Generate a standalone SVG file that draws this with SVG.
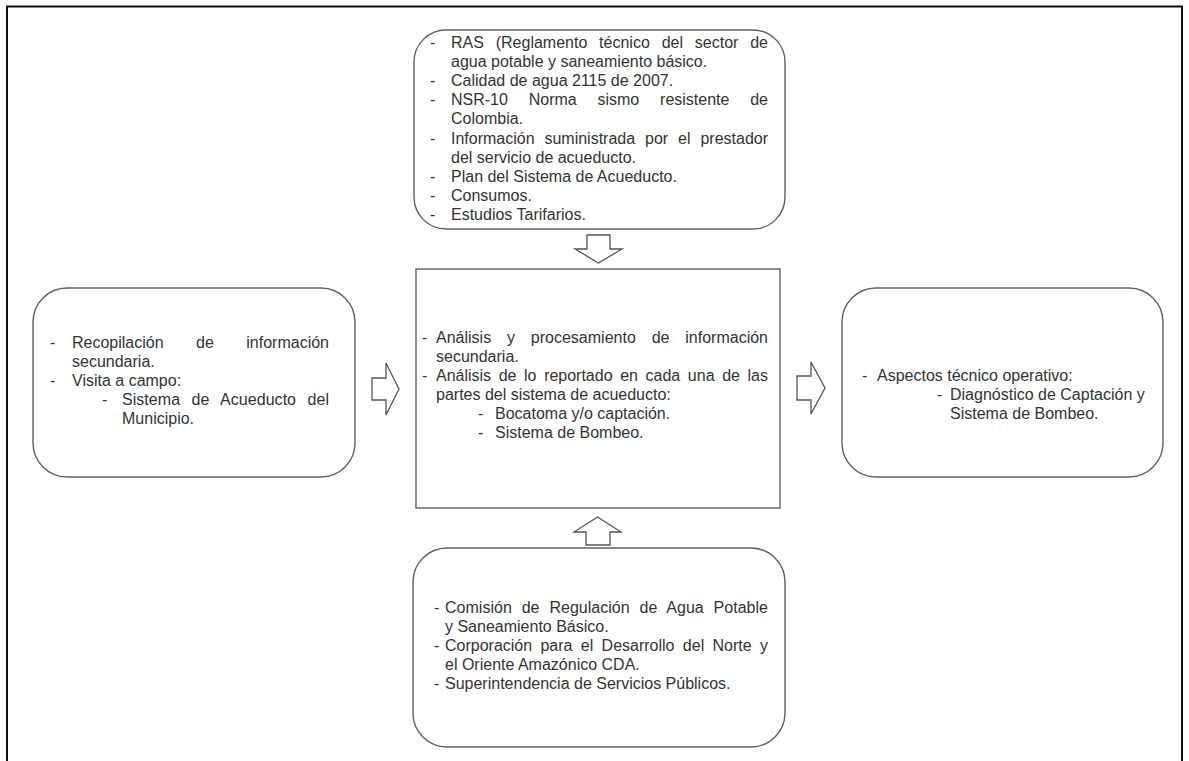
<svg xmlns="http://www.w3.org/2000/svg" width="1189" height="761" viewBox="0 0 1189 761">
<style>
.t{font-family:"Liberation Sans",Arial,sans-serif;font-size:16px;fill:#333}
.box{fill:#fff;stroke:#606060;stroke-width:1.4}
.arr{fill:#fff;stroke:#555;stroke-width:1.3;stroke-linejoin:miter}
</style>
<rect x="0" y="0" width="1189" height="761" fill="#fff"/>
<rect x="7" y="6.5" width="1175" height="780" fill="none" stroke="#111" stroke-width="2"/>

<g id="node-normativa">
<rect class="box" x="414" y="30" width="371" height="199" rx="32"/>
<text class="t" x="430" y="48">-</text>
<text class="t" x="451" y="48" textLength="317" lengthAdjust="spacing" word-spacing="7.4">RAS (Reglamento técnico del sector de</text>
<text class="t" x="451" y="67.1">agua potable y saneamiento básico.</text>
<text class="t" x="430" y="86.2">-</text>
<text class="t" x="451" y="86.2">Calidad de agua 2115 de 2007.</text>
<text class="t" x="430" y="105.3">-</text>
<text class="t" x="451" y="105.3" textLength="317" lengthAdjust="spacing" word-spacing="16.4">NSR-10 Norma sismo resistente de</text>
<text class="t" x="451" y="124.4">Colombia.</text>
<text class="t" x="430" y="143.5">-</text>
<text class="t" x="451" y="143.5" textLength="317" lengthAdjust="spacing" word-spacing="5.5">Información suministrada por el prestador</text>
<text class="t" x="451" y="162.6">del servicio de acueducto.</text>
<text class="t" x="430" y="181.7">-</text>
<text class="t" x="451" y="181.7">Plan del Sistema de Acueducto.</text>
<text class="t" x="430" y="200.8">-</text>
<text class="t" x="451" y="200.8">Consumos.</text>
<text class="t" x="430" y="219.9">-</text>
<text class="t" x="451" y="219.9">Estudios Tarifarios.</text>
</g>

<g id="node-recopilacion">
<rect class="box" x="33" y="288" width="322" height="189" rx="34"/>
<text class="t" x="50" y="348">-</text>
<text class="t" x="72" y="348" textLength="257" lengthAdjust="spacing" word-spacing="28">Recopilación de información</text>
<text class="t" x="72" y="367">secundaria.</text>
<text class="t" x="50" y="386">-</text>
<text class="t" x="72" y="386">Visita a campo:</text>
<text class="t" x="102" y="405">-</text>
<text class="t" x="122" y="405" textLength="207" lengthAdjust="spacing" word-spacing="7">Sistema de Acueducto del</text>
<text class="t" x="122" y="423.5">Municipio.</text>
</g>

<g id="node-analisis">
<rect class="box" x="416" y="269" width="364" height="239"/>
<text class="t" x="422" y="343">-</text>
<text class="t" x="436" y="343" textLength="332" lengthAdjust="spacing" word-spacing="11.4">Análisis y procesamiento de información</text>
<text class="t" x="436" y="362">secundaria.</text>
<text class="t" x="422" y="381">-</text>
<text class="t" x="436" y="381" textLength="332" lengthAdjust="spacing" word-spacing="3.2">Análisis de lo reportado en cada una de las</text>
<text class="t" x="436" y="400">partes del sistema de acueducto:</text>
<text class="t" x="478" y="419">-</text>
<text class="t" x="495" y="419">Bocatoma y/o captación.</text>
<text class="t" x="478" y="438">-</text>
<text class="t" x="495" y="438">Sistema de Bombeo.</text>
</g>

<g id="node-resultados">
<rect class="box" x="842" y="288" width="321" height="189" rx="34"/>
<text class="t" x="862" y="381">-</text>
<text class="t" x="877" y="381">Aspectos técnico operativo:</text>
<text class="t" x="937" y="400">-</text>
<text class="t" x="950" y="400">Diagnóstico de Captación y</text>
<text class="t" x="950" y="419">Sistema de Bombeo.</text>
</g>

<g id="node-entidades">
<rect class="box" x="413" y="548" width="372" height="199" rx="34"/>
<text class="t" x="434" y="613">-</text>
<text class="t" x="445" y="613" textLength="323" lengthAdjust="spacing" word-spacing="5.4">Comisión de Regulación de Agua Potable</text>
<text class="t" x="445" y="632">y Saneamiento Básico.</text>
<text class="t" x="434" y="651">-</text>
<text class="t" x="445" y="651" textLength="323" lengthAdjust="spacing" word-spacing="3.9">Corporación para el Desarrollo del Norte y</text>
<text class="t" x="445" y="670">el Oriente Amazónico CDA.</text>
<text class="t" x="434" y="689">-</text>
<text class="t" x="445" y="689">Superintendencia de Servicios Públicos.</text>
</g>

<g id="connectors">
<path class="arr" d="M587,235 H610 V249 H622 L598.5,263 L575,249 H587 Z"/>
<path class="arr" d="M586,545 H610 V532 H621 L597.5,517 L574,532 H586 Z"/>
<path class="arr" d="M372,378 H386 V363 L399,389 L386,415 V400 H372 Z"/>
<path class="arr" d="M797,376 H811 V362 L825,388 L811,414 V400 H797 Z"/>
</g>
</svg>
